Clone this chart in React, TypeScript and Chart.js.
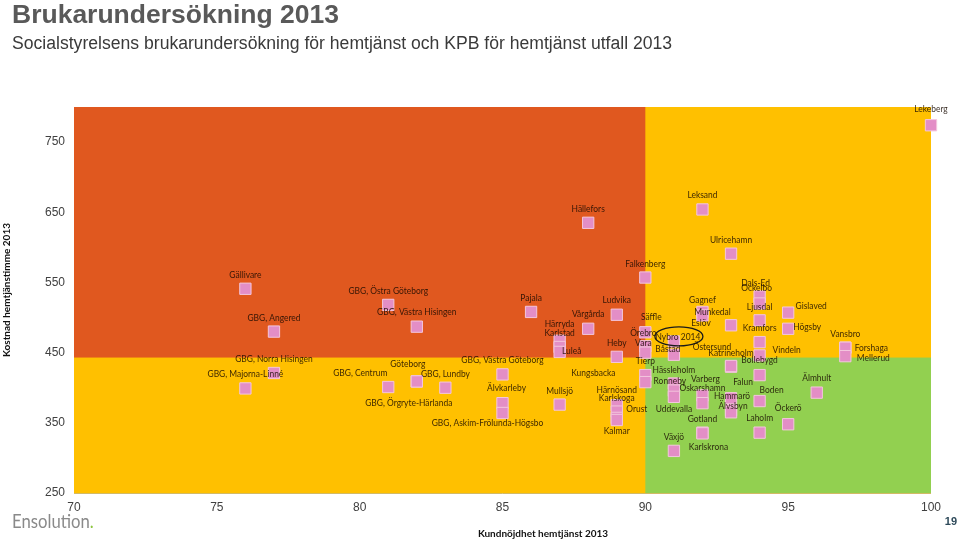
import { useEffect, useRef } from "react";
import { Chart, registerables } from "chart.js";

Chart.register(...registerables);

// ---------- data ----------
const municipalities = [
  "Lekeberg", "Hällefors", "Leksand", "Ulricehamn", "Falkenberg", "Gällivare",
  "GBG, Östra Göteborg", "Pajala", "Ludvika", "Vårgårda", "GBG, Västra Hisingen",
  "GBG, Angered", "Härryda", "Karlstad", "Luleå", "Säffle", "Örebro", "Vara",
  "Nybro 2014", "Båstad", "Heby", "Tierp", "Kungsbacka", "Mullsjö", "Härnösand",
  "Karlskoga", "Orust", "Kalmar", "GBG, Norra Hisingen", "GBG, Majorna-Linné",
  "GBG, Centrum", "Göteborg", "GBG, Lundby", "GBG, Örgryte-Härlanda",
  "GBG, Västra Göteborg", "Älvkarleby", "GBG, Askim-Frölunda-Högsbo", "Gagnef",
  "Munkedal", "Eslöv", "Östersund", "Katrineholm", "Varberg", "Oskarshamn",
  "Gotland", "Karlskrona", "Hässleholm", "Ronneby", "Uddevalla", "Växjö",
  "Gislaved", "Högsby", "Vansbro", "Forshaga", "Mellerud", "Älmhult", "Öckerö",
  "Dals-Ed", "Ockelbo", "Ljusdal", "Kramfors", "Vindeln", "Bollebygd", "Falun",
  "Hammarö", "Älvsbyn", "Boden", "Laholm",
];

// Kundnöjdhet hemtjänst 2013 (x)
const satisfaction = [
  100, 88, 92, 93, 90, 76,
  81, 86, 89, 88, 82,
  77, 87, 87, 87, 90, 90, 90,
  91, 91, 89, 90, 90, 87, 89,
  89, 89, 89, 77, 76,
  81, 82, 83, 82,
  85, 85, 85, 92,
  92, 93, 93, 93, 92, 92,
  92, 92, 91, 91, 91, 91,
  95, 95, 97, 97, 97, 96, 95,
  94, 94, 94, 94, 94, 94, 93,
  93, 93, 94, 94,
];

// Kostnad hemtjänstimme 2013 (y)
const cost = [
  774, 635, 654, 591, 557, 541,
  518, 508, 504, 484, 487,
  480, 467, 458, 451, 479, 459, 450,
  466, 447, 444, 418, 408, 376, 375,
  366, 357, 354, 421, 399,
  401, 409, 400, 409,
  419, 378, 364, 508,
  503, 489, 430, 431, 389, 378,
  336, 335, 406, 396, 387, 310,
  507, 484, 457, 457, 445, 393, 348,
  530, 520, 496, 465, 446, 418, 385,
  368, 365, 381, 336,
];

const xTickValues = [70, 75, 80, 85, 90, 95, 100];
const yTickValues = [250, 350, 450, 550, 650, 750];
const xThreshold = 90;
const yThreshold = 443;
const highlighted = "Nybro 2014";

// label placement relative to each marker (px) – layout only
const labelOffsets: [number, number][] = [
  [0, -16], [0, -14], [0, -15], [0, -14], [0, -14], [0, -14],
  [0, -14], [0, -14], [0, -15], [0, -15], [0, -15],
  [0, -14], [0, -17], [0, -14], [12, -1], [6, -15], [-2, -13], [-2, -10],
  [4, -5], [-6, -6], [0, -14], [0, -14], [-52, -9], [0, -14], [0, -15],
  [0, -14], [20, -9], [0, 11], [0, -14], [0, -15],
  [-28, -14], [-9, -18], [0, -14], [-8, 21],
  [0, -15], [4, -15], [-15, 10], [0, -12],
  [10, -4], [-30, -2], [-19, -20], [0, -13], [3, -17], [0, -15],
  [0, -14], [6, 13], [0, -14], [-4, -10], [0, 12], [0, -14],
  [23, -7], [19, -2], [0, -14], [26, 0], [28, 2], [0, -15], [0, -16],
  [-4, -14], [-3, -16], [0, -14], [0, -14], [27, -6], [0, -15], [12, -16],
  [1, -14], [2, -6], [12, -11], [0, -15],
];

const COLORS = {
  orange: "#E0581F",
  yellow: "#FFC000",
  green: "#92D050",
  point: "#E38EC6",
  pointBorder: "#F3C6DD",
  label: "rgba(25,10,0,0.85)",
  tick: "#404040",
};

const quadrantPlugin = {
  id: "quadrants",
  beforeDatasetsDraw(chart: any) {
    const { ctx, chartArea, scales } = chart;
    const { left, right, top, bottom } = chartArea;
    const xb = scales.x.getPixelForValue(xThreshold);
    const yb = scales.y.getPixelForValue(yThreshold);
    ctx.save();
    ctx.fillStyle = COLORS.yellow;
    ctx.fillRect(left, top, right - left, bottom - top);
    ctx.fillStyle = COLORS.orange;
    ctx.fillRect(left, top, xb - left, yb - top);
    ctx.fillStyle = COLORS.green;
    ctx.fillRect(xb, yb, right - xb, bottom - yb);
    ctx.restore();
  },
};

const labelPlugin = {
  id: "pointLabels",
  afterDatasetsDraw(chart: any) {
    const { ctx } = chart;
    const meta = chart.getDatasetMeta(0);
    ctx.save();
    ctx.font = "9.8px Lato";
    ctx.textAlign = "center";
    ctx.textBaseline = "middle";
    ctx.fillStyle = COLORS.label;
    meta.data.forEach((el: any, i: number) => {
      const [dx, dy] = labelOffsets[i];
      const tx = el.x + dx;
      const ty = el.y + dy;
      ctx.save();
      ctx.translate(tx, ty);
      ctx.scale(0.86, 1);
      ctx.fillText(municipalities[i], 0, 0);
      ctx.restore();
      if (municipalities[i] === highlighted) {
        ctx.save();
        ctx.strokeStyle = "#1a1a1a";
        ctx.lineWidth = 1.3;
        ctx.beginPath();
        ctx.ellipse(tx + 1, ty, 24, 9.5, 0, 0, Math.PI * 2);
        ctx.stroke();
        ctx.restore();
      }
    });
    ctx.restore();
  },
};

const textPlugin = {
  id: "pageTexts",
  afterDraw(chart: any) {
    const { ctx, chartArea } = chart;
    ctx.save();
    ctx.textBaseline = "alphabetic";
    ctx.textAlign = "left";
    ctx.fillStyle = "#595959";
    ctx.font = "bold 26.5px 'Liberation Sans'";
    ctx.fillText("Brukarundersökning 2013", 12, 23);
    ctx.fillStyle = "#3a3a3a";
    ctx.font = "17.6px 'Liberation Sans'";
    ctx.fillText(
      "Socialstyrelsens brukarundersökning för hemtjänst och KPB för hemtjänst utfall 2013",
      12,
      49
    );

    // axis titles
    ctx.fillStyle = "#111";
    ctx.font = "bold 10px Lato";
    ctx.textAlign = "center";
    ctx.textBaseline = "middle";
    ctx.fillText("Kundnöjdhet hemtjänst 2013", 543, 534);
    ctx.save();
    ctx.translate(7, 290);
    ctx.rotate(-Math.PI / 2);
    ctx.fillText("Kostnad hemtjänstimme 2013", 0, 0);
    ctx.restore();

    // logo
    ctx.save();
    ctx.translate(12, 528);
    ctx.scale(0.88, 1);
    ctx.textAlign = "left";
    ctx.textBaseline = "alphabetic";
    ctx.font = "19px Lato";
    ctx.fillStyle = "#8a8a8a";
    ctx.fillText("Ensolution", 0, 0);
    const w = ctx.measureText("Ensolution").width;
    ctx.fillStyle = "#8DC63F";
    ctx.fillText(".", w, 0);
    ctx.restore();

    // page number
    ctx.textAlign = "right";
    ctx.textBaseline = "alphabetic";
    ctx.font = "bold 11px 'Liberation Sans'";
    ctx.fillStyle = "#2E4A5A";
    ctx.fillText("19", 957, 525);

    // subtle bottom border
    ctx.strokeStyle = "rgba(180,140,0,0.6)";
    ctx.lineWidth = 1;
    ctx.beginPath();
    ctx.moveTo(chartArea.left, chartArea.bottom + 0.5);
    ctx.lineTo(chartArea.right, chartArea.bottom + 0.5);
    ctx.stroke();
    ctx.restore();
  },
};

export default function App() {
  const canvasRef = useRef<HTMLCanvasElement | null>(null);

  useEffect(() => {
    if (!canvasRef.current) return;
    const points = satisfaction.map((x, i) => ({ x, y: cost[i] }));
    const chart = new Chart(canvasRef.current, {
      type: "scatter",
      data: {
        datasets: [
          {
            data: points,
            pointStyle: "rect",
            pointRadius: 8,
            pointHoverRadius: 8,
            backgroundColor: COLORS.point,
            borderColor: COLORS.pointBorder,
            borderWidth: 1,
            clip: false,
          } as any,
        ],
      },
      options: {
        animation: false,
        responsive: false,
        events: [],
        layout: { padding: { left: 0, top: 107, right: 28, bottom: 0 } },
        plugins: {
          legend: { display: false },
          tooltip: { enabled: false },
          title: { display: false },
        },
        scales: {
          x: {
            type: "linear",
            min: 70,
            max: 100,
            grid: { display: false, drawTicks: false },
            border: { display: false },
            afterBuildTicks: (axis: any) => {
              axis.ticks = xTickValues.map((v) => ({ value: v }));
            },
            afterFit: (axis: any) => {
              axis.height = 49;
            },
            ticks: {
              color: COLORS.tick,
              font: { family: "'Liberation Sans'", size: 12 },
              padding: 7,
              maxRotation: 0,
            },
          },
          y: {
            type: "linear",
            min: 250,
            max: 800,
            grid: { display: false, drawTicks: false },
            border: { display: false },
            afterBuildTicks: (axis: any) => {
              axis.ticks = yTickValues.map((v) => ({ value: v }));
            },
            afterFit: (axis: any) => {
              axis.width = 74;
            },
            ticks: {
              color: COLORS.tick,
              font: { family: "'Liberation Sans'", size: 12 },
              padding: 9,
            },
          },
        },
      },
      plugins: [quadrantPlugin, labelPlugin, textPlugin],
    });
    return () => chart.destroy();
  }, []);

  return (
    <div style={{ position: "absolute", left: 0, top: 0, width: 959, height: 542, background: "#fff" }}>
      <canvas ref={canvasRef} width={959} height={542} style={{ display: "block" }} />
    </div>
  );
}
